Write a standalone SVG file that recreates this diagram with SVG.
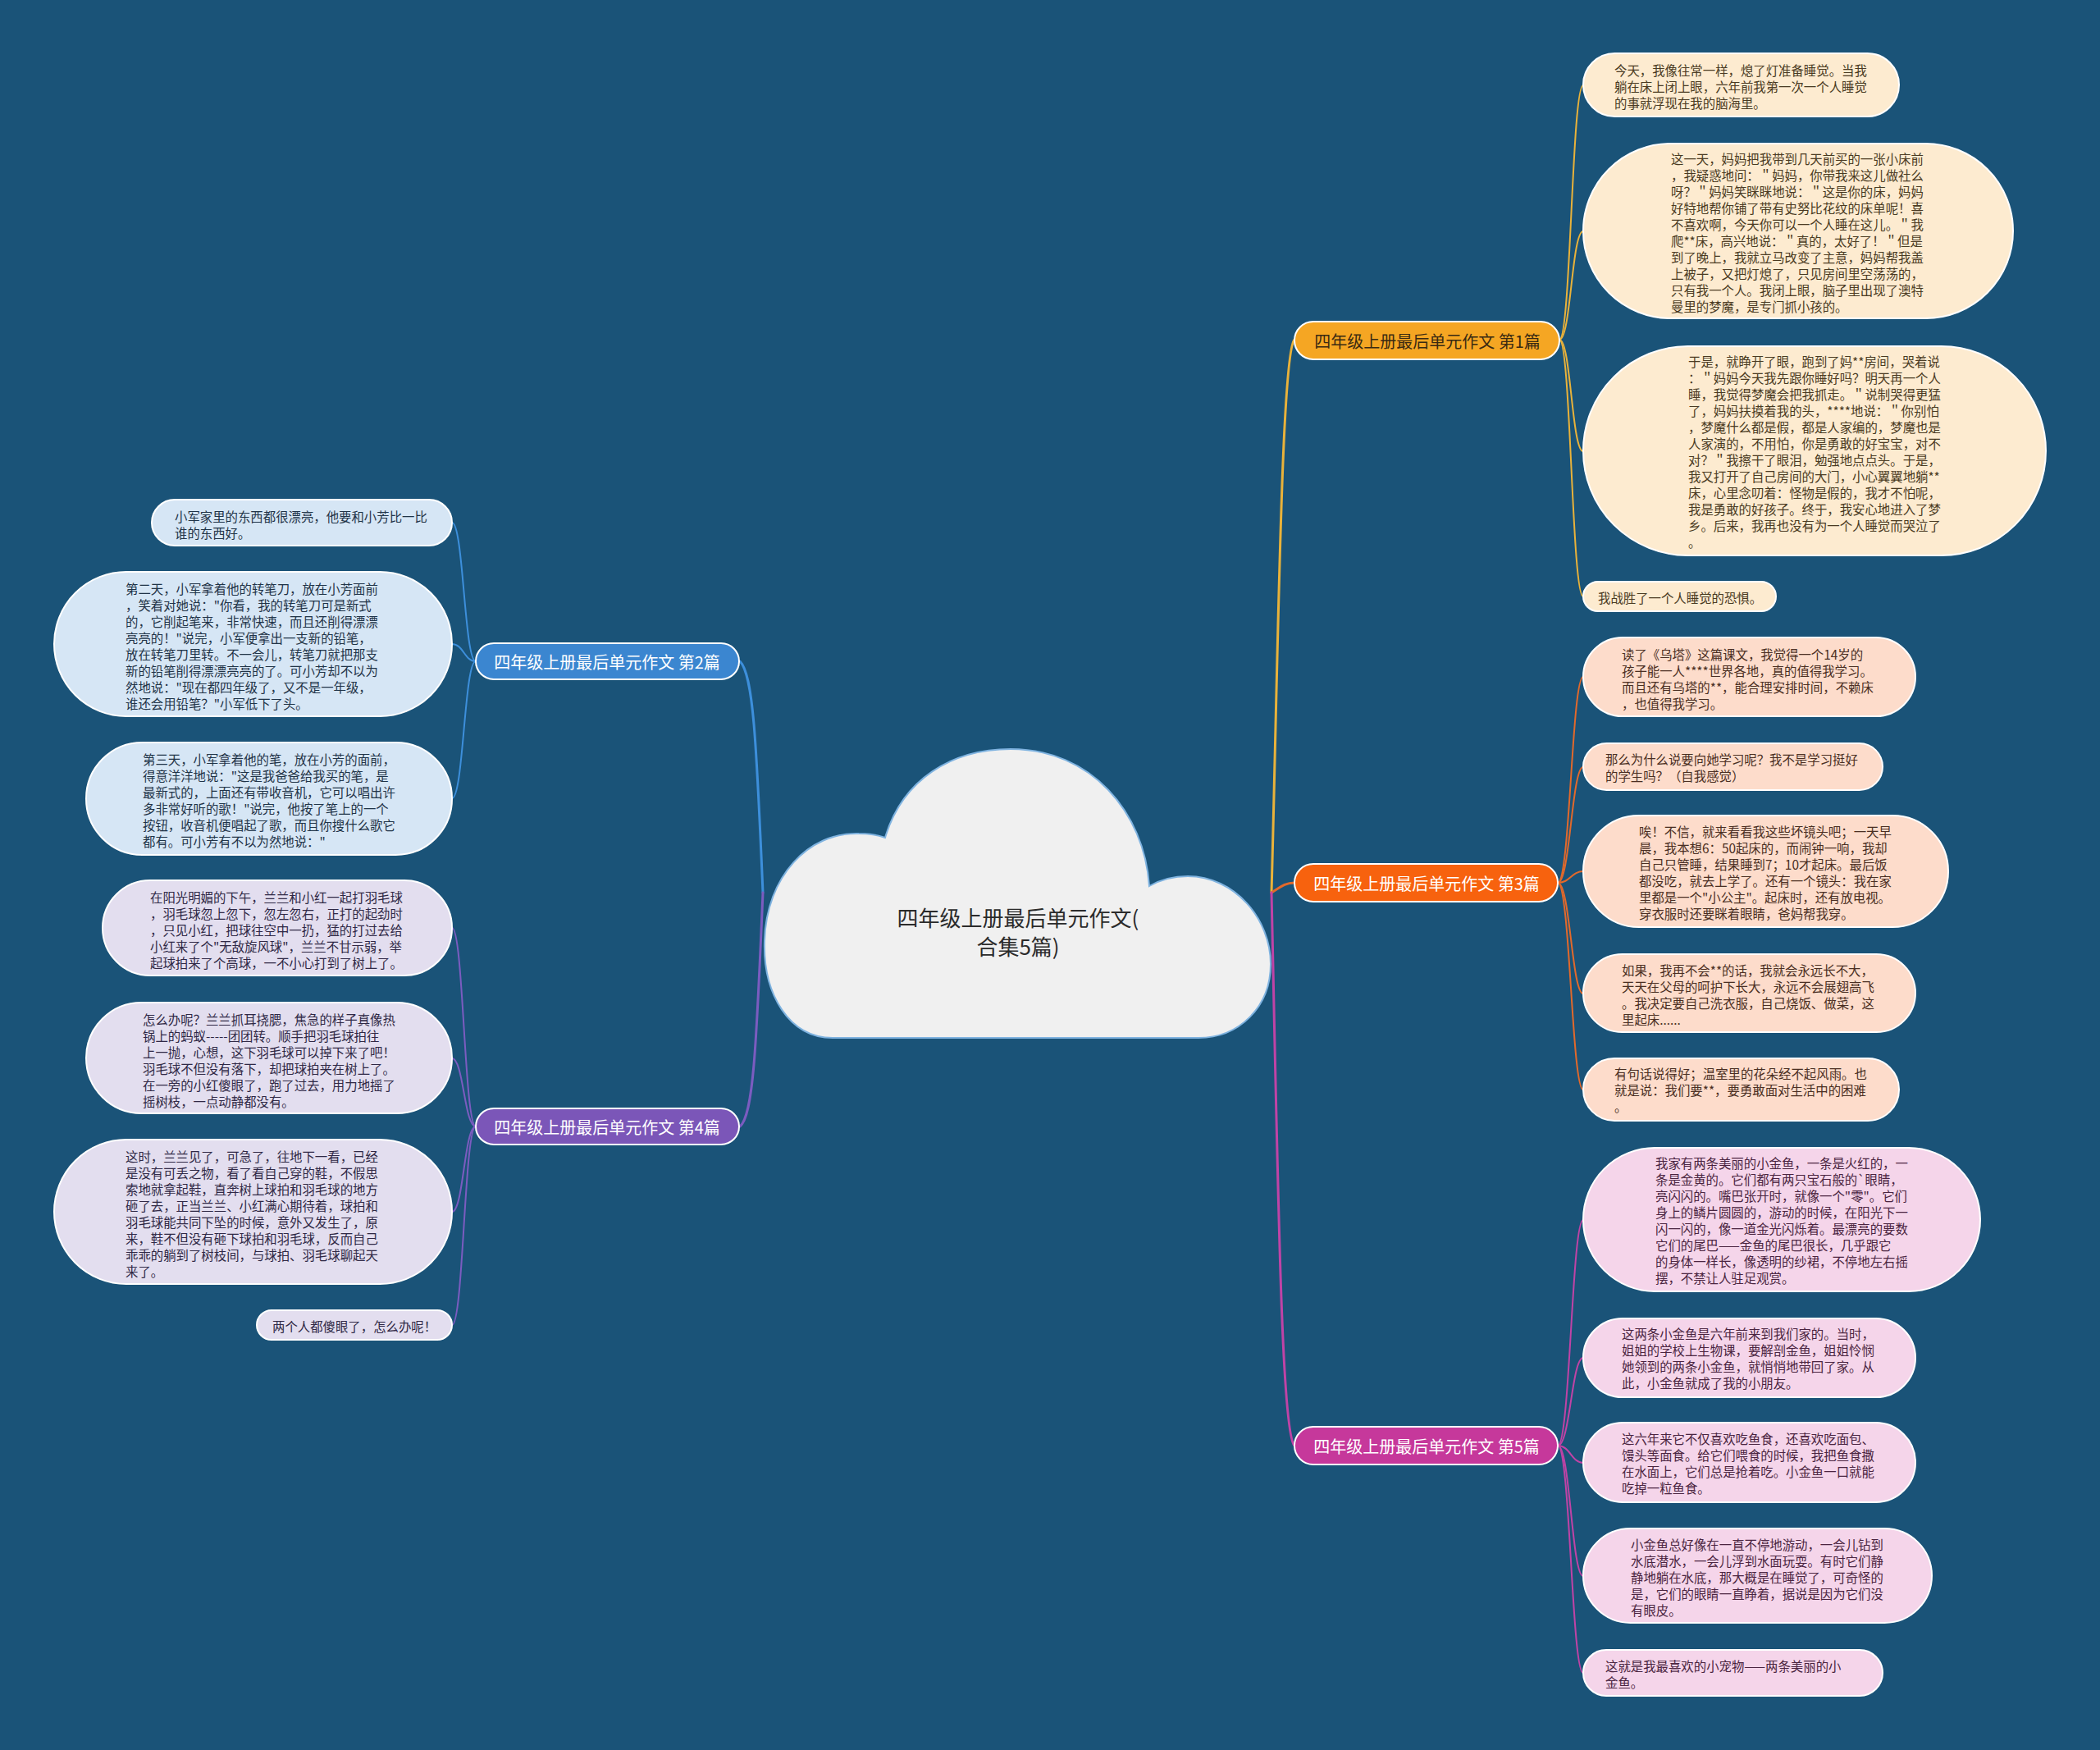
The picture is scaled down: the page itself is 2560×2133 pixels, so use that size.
<svg xmlns="http://www.w3.org/2000/svg" width="2560" height="2133" viewBox="0 0 2560 2133">
<style>
text{font-family:"Noto Sans CJK SC","Noto Sans",sans-serif;dominant-baseline:central}
.lt{font-size:15.4px}
.bt{font-size:20px;text-anchor:middle}
.rt{font-size:26px;text-anchor:middle;fill:#2b2b2b}
.leaf{stroke:#ffffff;stroke-width:2}
.c1{fill:#fdebd0}.c3{fill:#fddccb}.c5{fill:#f5d5ea}.c2{fill:#d6e6f5}.c4{fill:#e3deef}
.x1{fill:#4a3a22}.x3{fill:#4a2e22}.x5{fill:#4a2440}.x2{fill:#1f3347}.x4{fill:#2f2845}
.ln{fill:none;stroke-linecap:round}
.m{stroke-width:3}.s{stroke-width:2}
.k1{stroke:#e9b23a}.k3{stroke:#e2692b}.k5{stroke:#c043a6}.k2{stroke:#3d8fdb}.k4{stroke:#7b5cc0}
</style>
<rect width="2560" height="2133" fill="#1a5378"/>
<g id="connectors">
<path class="ln m k1" d="M1550 1088 C1558 800 1562 430 1578 414"/>
<path class="ln m k3" d="M1550 1088 C1560 1082 1566 1076 1578 1076"/>
<path class="ln m k5" d="M1550 1088 C1558 1450 1562 1746 1578 1762"/>
<path class="ln m k2" d="M930 1088 C922 900 918 822 902 806"/>
<path class="ln m k4" d="M930 1088 C922 1280 918 1360 902 1373"/>
<path class="ln s k1" d="M1901 414 C1915 414 1916 104 1930 104"/>
<path class="ln s k1" d="M1901 414 C1915 414 1916 282 1930 282"/>
<path class="ln s k1" d="M1901 414 C1915 414 1916 550 1930 550"/>
<path class="ln s k1" d="M1901 414 C1915 414 1916 727 1930 727"/>
<path class="ln s k3" d="M1899 1076 C1914 1076 1916 825 1930 825"/>
<path class="ln s k3" d="M1899 1076 C1914 1076 1916 935 1930 935"/>
<path class="ln s k3" d="M1899 1076 C1914 1076 1916 1062 1930 1062"/>
<path class="ln s k3" d="M1899 1076 C1914 1076 1916 1211 1930 1211"/>
<path class="ln s k3" d="M1899 1076 C1914 1076 1916 1328 1930 1328"/>
<path class="ln s k5" d="M1899 1762 C1914 1762 1916 1487 1930 1487"/>
<path class="ln s k5" d="M1899 1762 C1914 1762 1916 1655 1930 1655"/>
<path class="ln s k5" d="M1899 1762 C1914 1762 1916 1783 1930 1783"/>
<path class="ln s k5" d="M1899 1762 C1914 1762 1916 1921 1930 1921"/>
<path class="ln s k5" d="M1899 1762 C1914 1762 1916 2039 1930 2039"/>
<path class="ln s k2" d="M580 806 C566 806 565 637 551 637"/>
<path class="ln s k2" d="M580 806 C566 806 565 785 551 785"/>
<path class="ln s k2" d="M580 806 C566 806 565 973 551 973"/>
<path class="ln s k4" d="M580 1373 C566 1373 565 1131 551 1131"/>
<path class="ln s k4" d="M580 1373 C566 1373 565 1290 551 1290"/>
<path class="ln s k4" d="M580 1373 C566 1373 565 1477 551 1477"/>
<path class="ln s k4" d="M580 1373 C566 1373 565 1615 551 1615"/>
</g>
<g id="root">
<path d="M1015 1265 C962 1265 930 1212 932 1147 C934 1068 986 1014 1047 1016 C1060 1016 1071 1018 1079 1021 C1100 950 1160 913 1232 913 C1330 913 1395 990 1401 1080 C1415 1072 1430 1068 1448 1068 C1505 1068 1549 1120 1549 1175 C1549 1228 1510 1265 1461 1265 Z" fill="#f0f0f0" stroke="#7fb3e0" stroke-width="2"/>
<text class="rt" x="1241" y="1117">四年级上册最后单元作文(</text>
<text class="rt" x="1241" y="1152">合集5篇)</text>
</g>
<g id="branch1">
<rect x="1578" y="392" width="323" height="46" rx="23" fill="#f5a623" stroke="#ffffff" stroke-width="2"/>
<text class="bt" x="1740" y="415" fill="#3a2a12">四年级上册最后单元作文 第1篇</text>
</g>
<g id="branch3">
<rect x="1578" y="1053" width="321" height="46" rx="23" fill="#f7620e" stroke="#ffffff" stroke-width="2"/>
<text class="bt" x="1739" y="1076" fill="#ffffff">四年级上册最后单元作文 第3篇</text>
</g>
<g id="branch5">
<rect x="1578" y="1739" width="321" height="46" rx="23" fill="#c6389b" stroke="#ffffff" stroke-width="2"/>
<text class="bt" x="1739" y="1762" fill="#ffffff">四年级上册最后单元作文 第5篇</text>
</g>
<g id="branch2">
<rect x="580" y="784" width="321" height="44" rx="22" fill="#3b86d0" stroke="#ffffff" stroke-width="2"/>
<text class="bt" x="740" y="806" fill="#ffffff">四年级上册最后单元作文 第2篇</text>
</g>
<g id="branch4">
<rect x="580" y="1351" width="321" height="44" rx="22" fill="#7b56b8" stroke="#ffffff" stroke-width="2"/>
<text class="bt" x="740" y="1373" fill="#ffffff">四年级上册最后单元作文 第4篇</text>
</g>
<g id="leaf1a">
<rect class="leaf c1" x="1930" y="65" width="385" height="77" rx="38.5"/>
<text class="lt x1"><tspan x="1968" y="85">今天，我像往常一样，熄了灯准备睡觉。当我</tspan><tspan x="1968" y="105">躺在床上闭上眼，六年前我第一次一个人睡觉</tspan><tspan x="1968" y="125">的事就浮现在我的脑海里。</tspan></text>
</g>
<g id="leaf1b">
<rect class="leaf c1" x="1930" y="175" width="524" height="213" rx="106.5"/>
<text class="lt x1"><tspan x="2037" y="193">这一天，妈妈把我带到几天前买的一张小床前</tspan><tspan x="2037" y="213">，我疑惑地问：＂妈妈，你带我来这儿做社么</tspan><tspan x="2037" y="233">呀？＂妈妈笑眯眯地说：＂这是你的床，妈妈</tspan><tspan x="2037" y="253">好特地帮你铺了带有史努比花纹的床单呢！喜</tspan><tspan x="2037" y="273">不喜欢啊，今天你可以一个人睡在这儿。＂我</tspan><tspan x="2037" y="293">爬**床，高兴地说：＂真的，太好了！＂但是</tspan><tspan x="2037" y="313">到了晚上，我就立马改变了主意，妈妈帮我盖</tspan><tspan x="2037" y="333">上被子，又把灯熄了，只见房间里空荡荡的，</tspan><tspan x="2037" y="353">只有我一个人。我闭上眼，脑子里出现了澳特</tspan><tspan x="2037" y="373">曼里的梦魔，是专门抓小孩的。</tspan></text>
</g>
<g id="leaf1c">
<rect class="leaf c1" x="1930" y="422" width="564" height="255" rx="127.5"/>
<text class="lt x1"><tspan x="2058" y="440">于是，就睁开了眼，跑到了妈**房间，哭着说</tspan><tspan x="2058" y="460">：＂妈妈今天我先跟你睡好吗？明天再一个人</tspan><tspan x="2058" y="480">睡，我觉得梦魔会把我抓走。＂说制哭得更猛</tspan><tspan x="2058" y="500">了，妈妈扶摸着我的头，****地说：＂你别怕</tspan><tspan x="2058" y="520">，梦魔什么都是假，都是人家编的，梦魔也是</tspan><tspan x="2058" y="540">人家演的，不用怕，你是勇敢的好宝宝，对不</tspan><tspan x="2058" y="560">对？＂我擦干了眼泪，勉强地点点头。于是，</tspan><tspan x="2058" y="580">我又打开了自己房间的大门，小心翼翼地躺**</tspan><tspan x="2058" y="600">床，心里念叨着：怪物是假的，我才不怕呢，</tspan><tspan x="2058" y="620">我是勇敢的好孩子。终于，我安心地进入了梦</tspan><tspan x="2058" y="640">乡。后来，我再也没有为一个人睡觉而哭泣了</tspan><tspan x="2058" y="660">。</tspan></text>
</g>
<g id="leaf1d">
<rect class="leaf c1" x="1930" y="709" width="235" height="36" rx="18"/>
<text class="lt x1" x="1948" y="728">我战胜了一个人睡觉的恐惧。</text>
</g>
<g id="leaf3a">
<rect class="leaf c3" x="1930" y="777" width="405" height="96" rx="48"/>
<text class="lt x3"><tspan x="1977" y="797">读了《乌塔》这篇课文，我觉得一个14岁的</tspan><tspan x="1977" y="817">孩子能一人****世界各地，真的值得我学习。</tspan><tspan x="1977" y="837">而且还有乌塔的**，能合理安排时间，不赖床</tspan><tspan x="1977" y="857">，也值得我学习。</tspan></text>
</g>
<g id="leaf3b">
<rect class="leaf c3" x="1930" y="906" width="365" height="57" rx="28.5"/>
<text class="lt x3"><tspan x="1957" y="925">那么为什么说要向她学习呢？我不是学习挺好</tspan><tspan x="1957" y="945">的学生吗？（自我感觉）</tspan></text>
</g>
<g id="leaf3c">
<rect class="leaf c3" x="1930" y="994" width="445" height="136" rx="68"/>
<text class="lt x3"><tspan x="1998" y="1013">唉！不信，就来看看我这些坏镜头吧；一天早</tspan><tspan x="1998" y="1033">晨，我本想6：50起床的，而闹钟一响，我却</tspan><tspan x="1998" y="1053">自己只管睡，结果睡到7；10才起床。最后饭</tspan><tspan x="1998" y="1073">都没吃，就去上学了。还有一个镜头：我在家</tspan><tspan x="1998" y="1093">里都是一个"小公主"。起床时，还有放电视。</tspan><tspan x="1998" y="1113">穿衣服时还要眯着眼睛，爸妈帮我穿。</tspan></text>
</g>
<g id="leaf3d">
<rect class="leaf c3" x="1930" y="1163" width="405" height="95" rx="47.5"/>
<text class="lt x3"><tspan x="1977" y="1182">如果，我再不会**的话，我就会永远长不大，</tspan><tspan x="1977" y="1202">天天在父母的呵护下长大，永远不会展翅高飞</tspan><tspan x="1977" y="1222">。我决定要自己洗衣服，自己烧饭、做菜，这</tspan><tspan x="1977" y="1242">里起床......</tspan></text>
</g>
<g id="leaf3e">
<rect class="leaf c3" x="1930" y="1290" width="385" height="76" rx="38"/>
<text class="lt x3"><tspan x="1968" y="1308">有句话说得好；温室里的花朵经不起风雨。也</tspan><tspan x="1968" y="1328">就是说：我们要**，要勇敢面对生活中的困难</tspan><tspan x="1968" y="1348">。</tspan></text>
</g>
<g id="leaf5a">
<rect class="leaf c5" x="1930" y="1399" width="484" height="175" rx="87.5"/>
<text class="lt x5"><tspan x="2018" y="1417">我家有两条美丽的小金鱼，一条是火红的，一</tspan><tspan x="2018" y="1437">条是金黄的。它们都有两只宝石般的`眼睛，</tspan><tspan x="2018" y="1457">亮闪闪的。嘴巴张开时，就像一个"零"。它们</tspan><tspan x="2018" y="1477">身上的鳞片圆圆的，游动的时候，在阳光下一</tspan><tspan x="2018" y="1497">闪一闪的，像一道金光闪烁着。最漂亮的要数</tspan><tspan x="2018" y="1517">它们的尾巴——金鱼的尾巴很长，几乎跟它</tspan><tspan x="2018" y="1537">的身体一样长，像透明的纱裙，不停地左右摇</tspan><tspan x="2018" y="1557">摆，不禁让人驻足观赏。</tspan></text>
</g>
<g id="leaf5b">
<rect class="leaf c5" x="1930" y="1607" width="405" height="96" rx="48"/>
<text class="lt x5"><tspan x="1977" y="1625">这两条小金鱼是六年前来到我们家的。当时，</tspan><tspan x="1977" y="1645">姐姐的学校上生物课，要解剖金鱼，姐姐怜悯</tspan><tspan x="1977" y="1665">她领到的两条小金鱼，就悄悄地带回了家。从</tspan><tspan x="1977" y="1685">此，小金鱼就成了我的小朋友。</tspan></text>
</g>
<g id="leaf5c">
<rect class="leaf c5" x="1930" y="1734" width="405" height="97" rx="48.5"/>
<text class="lt x5"><tspan x="1977" y="1753">这六年来它不仅喜欢吃鱼食，还喜欢吃面包、</tspan><tspan x="1977" y="1773">馒头等面食。给它们喂食的时候，我把鱼食撒</tspan><tspan x="1977" y="1793">在水面上，它们总是抢着吃。小金鱼一口就能</tspan><tspan x="1977" y="1813">吃掉一粒鱼食。</tspan></text>
</g>
<g id="leaf5d">
<rect class="leaf c5" x="1930" y="1863" width="425" height="115" rx="57.5"/>
<text class="lt x5"><tspan x="1988" y="1882">小金鱼总好像在一直不停地游动，一会儿钻到</tspan><tspan x="1988" y="1902">水底潜水，一会儿浮到水面玩耍。有时它们静</tspan><tspan x="1988" y="1922">静地躺在水底，那大概是在睡觉了，可奇怪的</tspan><tspan x="1988" y="1942">是，它们的眼睛一直睁着，据说是因为它们没</tspan><tspan x="1988" y="1962">有眼皮。</tspan></text>
</g>
<g id="leaf5e">
<rect class="leaf c5" x="1930" y="2011" width="365" height="56" rx="28"/>
<text class="lt x5"><tspan x="1957" y="2030">这就是我最喜欢的小宠物——两条美丽的小</tspan><tspan x="1957" y="2050">金鱼。</tspan></text>
</g>
<g id="leaf2a">
<rect class="leaf c2" x="185" y="609" width="366" height="56" rx="28"/>
<text class="lt x2"><tspan x="213" y="629">小军家里的东西都很漂亮，他要和小芳比一比</tspan><tspan x="213" y="649">谁的东西好。</tspan></text>
</g>
<g id="leaf2b">
<rect class="leaf c2" x="66" y="697" width="485" height="176" rx="88"/>
<text class="lt x2"><tspan x="153" y="717">第二天，小军拿着他的转笔刀，放在小芳面前</tspan><tspan x="153" y="737">，笑着对她说："你看，我的转笔刀可是新式</tspan><tspan x="153" y="757">的，它削起笔来，非常快速，而且还削得漂漂</tspan><tspan x="153" y="777">亮亮的！"说完，小军便拿出一支新的铅笔，</tspan><tspan x="153" y="797">放在转笔刀里转。不一会儿，转笔刀就把那支</tspan><tspan x="153" y="817">新的铅笔削得漂漂亮亮的了。可小芳却不以为</tspan><tspan x="153" y="837">然地说："现在都四年级了，又不是一年级，</tspan><tspan x="153" y="857">谁还会用铅笔？"小军低下了头。</tspan></text>
</g>
<g id="leaf2c">
<rect class="leaf c2" x="105" y="905" width="446" height="137" rx="68.5"/>
<text class="lt x2"><tspan x="174" y="925">第三天，小军拿着他的笔，放在小芳的面前，</tspan><tspan x="174" y="945">得意洋洋地说："这是我爸爸给我买的笔，是</tspan><tspan x="174" y="965">最新式的，上面还有带收音机，它可以唱出许</tspan><tspan x="174" y="985">多非常好听的歌！"说完，他按了笔上的一个</tspan><tspan x="174" y="1005">按钮，收音机便唱起了歌，而且你搜什么歌它</tspan><tspan x="174" y="1025">都有。可小芳有不以为然地说："</tspan></text>
</g>
<g id="leaf4a">
<rect class="leaf c4" x="125" y="1073" width="426" height="116" rx="58"/>
<text class="lt x4"><tspan x="183" y="1093">在阳光明媚的下午，兰兰和小红一起打羽毛球</tspan><tspan x="183" y="1113">，羽毛球忽上忽下，忽左忽右，正打的起劲时</tspan><tspan x="183" y="1133">，只见小红，把球往空中一扔，猛的打过去给</tspan><tspan x="183" y="1153">小红来了个"无敌旋风球"，兰兰不甘示弱，举</tspan><tspan x="183" y="1173">起球拍来了个高球，一不小心打到了树上了。</tspan></text>
</g>
<g id="leaf4b">
<rect class="leaf c4" x="105" y="1222" width="446" height="135" rx="67.5"/>
<text class="lt x4"><tspan x="174" y="1242">怎么办呢？兰兰抓耳挠腮，焦急的样子真像热</tspan><tspan x="174" y="1262">锅上的蚂蚁-----团团转。顺手把羽毛球拍往</tspan><tspan x="174" y="1282">上一抛，心想，这下羽毛球可以掉下来了吧！</tspan><tspan x="174" y="1302">羽毛球不但没有落下，却把球拍夹在树上了。</tspan><tspan x="174" y="1322">在一旁的小红傻眼了，跑了过去，用力地摇了</tspan><tspan x="174" y="1342">摇树枝，一点动静都没有。</tspan></text>
</g>
<g id="leaf4c">
<rect class="leaf c4" x="66" y="1389" width="485" height="176" rx="88"/>
<text class="lt x4"><tspan x="153" y="1409">这时，兰兰见了，可急了，往地下一看，已经</tspan><tspan x="153" y="1429">是没有可丢之物，看了看自己穿的鞋，不假思</tspan><tspan x="153" y="1449">索地就拿起鞋，直奔树上球拍和羽毛球的地方</tspan><tspan x="153" y="1469">砸了去，正当兰兰、小红满心期待着，球拍和</tspan><tspan x="153" y="1489">羽毛球能共同下坠的时候，意外又发生了，原</tspan><tspan x="153" y="1509">来，鞋不但没有砸下球拍和羽毛球，反而自己</tspan><tspan x="153" y="1529">乖乖的躺到了树枝间，与球拍、羽毛球聊起天</tspan><tspan x="153" y="1549">来了。</tspan></text>
</g>
<g id="leaf4d">
<rect class="leaf c4" x="313" y="1597" width="238" height="36" rx="18"/>
<text class="lt x4" x="332" y="1616">两个人都傻眼了，怎么办呢！</text>
</g>
</svg>
